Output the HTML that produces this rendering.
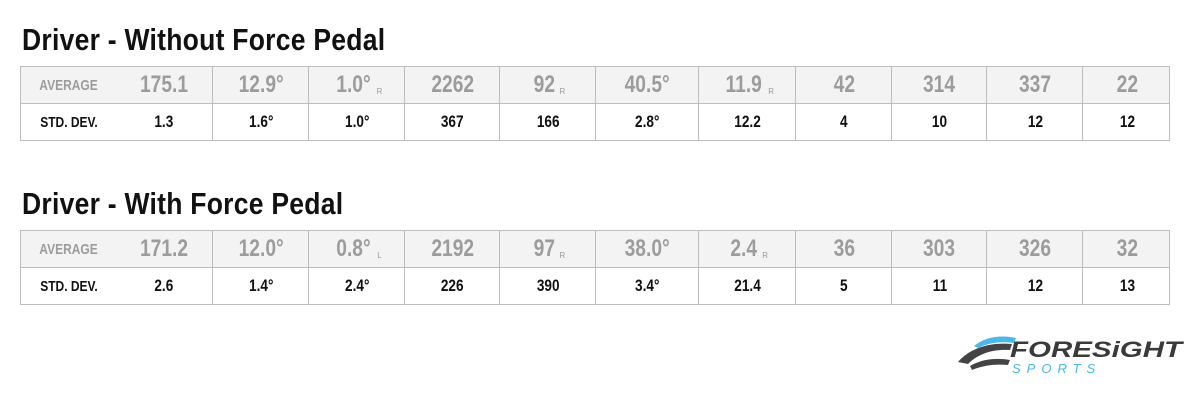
<!DOCTYPE html>
<html><head><meta charset="utf-8"><style>
body{margin:0;width:1200px;height:400px;background:#fff;position:relative;overflow:hidden;font-family:"Liberation Sans",sans-serif}
.t{position:absolute;left:22px;font-weight:bold;font-size:31px;color:#111;transform:scaleX(0.855);transform-origin:left top;white-space:nowrap;letter-spacing:0.3px}
.tbl{position:absolute;left:20px;width:1150px;border:1px solid #bdbdbd;box-sizing:border-box}
.row{position:absolute;left:0;width:100%;box-sizing:border-box}
.r1{top:0;height:36px;background:#f3f3f3}
.r2{top:36px;bottom:0;background:#fff;border-top:1px solid #bdbdbd}
.c{position:absolute;top:0;height:100%;display:flex;align-items:center;justify-content:center;white-space:nowrap}
.b{border-left:1px solid #bdbdbd}
.v1 span.n{font-weight:bold;font-size:24px;color:#9c9c9c;display:inline-block;transform:scaleX(0.8)}
.v2 span.n{font-weight:bold;font-size:17px;color:#111;display:inline-block;transform:scaleX(0.8)}
.sub{font-size:8px;color:#9c9c9c;margin-left:2px;position:relative;top:6px}
.lab{font-weight:bold;font-size:15px;display:inline-block;transform:scaleX(0.8)}
</style></head><body>
<div class="t" style="top:22px">Driver - Without Force Pedal</div>
<div class="tbl" id="t1" style="top:66px;height:75px"></div>
<div class="t" style="top:186px">Driver - With Force Pedal</div>
<div class="tbl" id="t2" style="top:230px;height:75px"></div>
<svg style="position:absolute;left:950px;top:330px" width="240" height="50">
<path d="M8 32 C20 18 40 12 62 14 L60 20 C42 19 28 24 18 34 Z" fill="#444"/>
<path d="M24 16 C36 6 52 5 66 8 L64 13 C50 11 38 13 28 18 Z" fill="#4ab8e8"/>
<path d="M20 36 C34 28 48 28 60 30 L58 35 C46 34 34 35 22 40 Z" fill="#444"/>
<text x="60" y="27" font-family="Liberation Sans" font-weight="bold" font-style="italic" font-size="22" fill="#3a3a3a" textLength="172" lengthAdjust="spacingAndGlyphs">FORESiGHT</text>
<text x="62" y="43" font-family="Liberation Sans" font-style="italic" font-size="13" fill="#4ab8e8" letter-spacing="6">SPORTS</text>
</svg>
<script>
const edges=[0,191,287,383,478,574,677,774,870,965,1061,1150];
const avg1=[["175.1",""],["12.9°",""],["1.0°","R"],["2262",""],["92","R"],["40.5°",""],["11.9","R"],["42",""],["314",""],["337",""],["22",""]];
const sd1=["1.3","1.6°","1.0°","367","166","2.8°","12.2","4","10","12","12"];
const avg2=[["171.2",""],["12.0°",""],["0.8°","L"],["2192",""],["97","R"],["38.0°",""],["2.4","R"],["36",""],["303",""],["326",""],["32",""]];
const sd2=["2.6","1.4°","2.4°","226","390","3.4°","21.4","5","11","12","13"];
function build(id,avg,sd){
 const t=document.getElementById(id);
 [["r1 v1",avg,"AVERAGE","#9c9c9c"],["r2 v2",sd,"STD. DEV.","#111"]].forEach(([cls,vals,lab,col],ri)=>{
  const r=document.createElement('div');r.className='row '+cls;
  
  
  const l=document.createElement('div');l.className='c';l.style.left='0px';l.style.width='95px';
  l.innerHTML='<span class="lab" style="color:'+col+'">'+lab+'</span>';
  
  
  r.appendChild(l);
  vals.forEach((v,i)=>{
   const c=document.createElement('div');
   c.className='c'+(i>0?' b':'');
   const x0=i===0?95:edges[i];
   c.style.left=x0+'px';c.style.width=(edges[i+1]-x0)+'px';
   const txt=Array.isArray(v)?v[0]:v,s=Array.isArray(v)?v[1]:'';
   c.innerHTML='<span class="n">'+txt+'</span>'+(s?'<span class="sub">'+s+'</span>':'');
   
   
   r.appendChild(c);
  });
  t.appendChild(r);
 });
}
build('t1',avg1,sd1);build('t2',avg2,sd2);
</script>
</body></html>
